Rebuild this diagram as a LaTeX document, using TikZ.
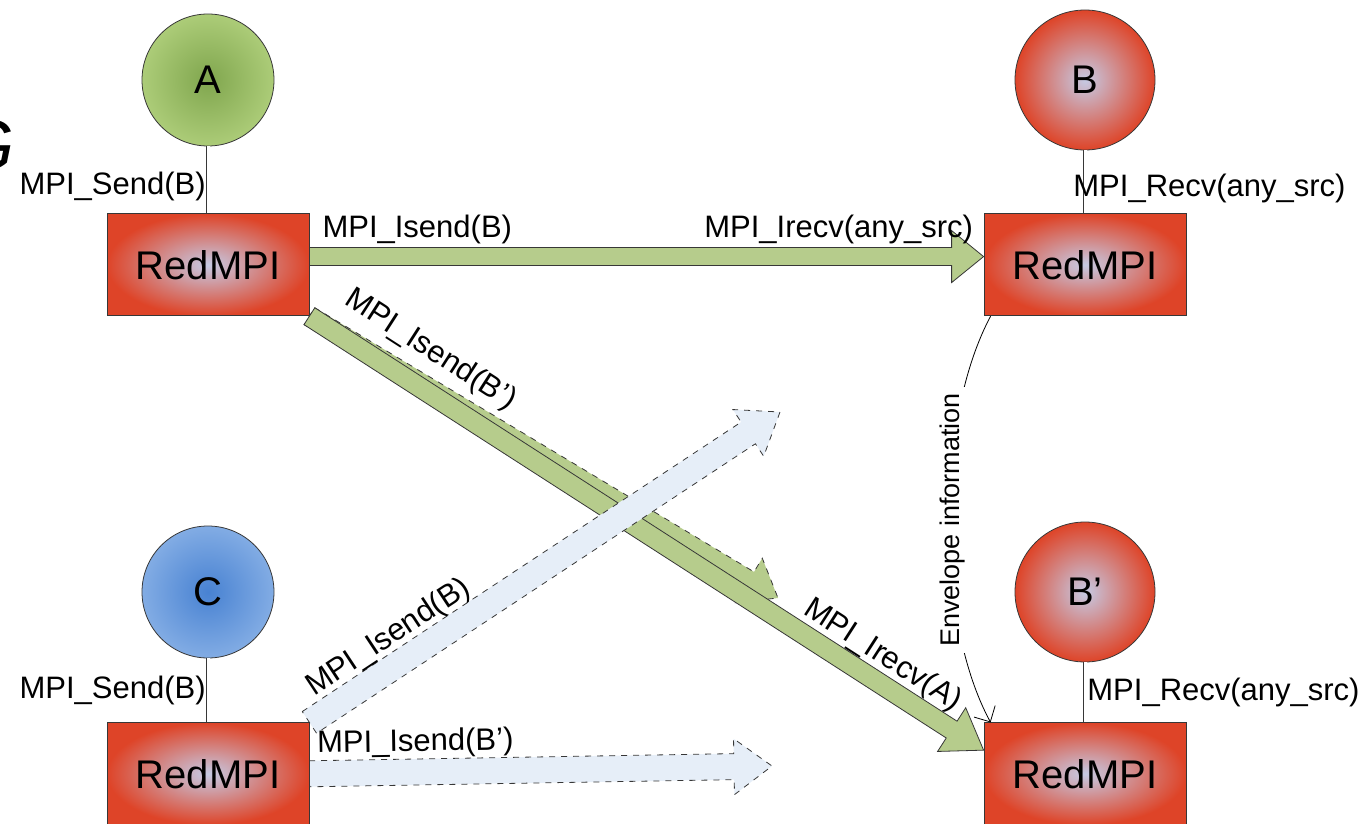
\documentclass[tikz,border=0pt]{standalone}
\usepackage{fontspec}
\setmainfont{Liberation Sans}
\usetikzlibrary{calc,positioning,backgrounds,arrows.meta}

\definecolor{mpired}{RGB}{222,68,40}
\definecolor{mpiblue}{RGB}{198,202,228}
\definecolor{agreen}{RGB}{182,204,140}
\definecolor{ghostblue}{RGB}{230,238,248}
\definecolor{edgegray}{RGB}{55,55,55}
\definecolor{greenin}{RGB}{128,166,78}
\definecolor{greenout}{RGB}{172,204,120}
\definecolor{bluein}{RGB}{72,130,210}
\definecolor{blueout}{RGB}{130,172,228}

\tikzset{%
  rank/.style={circle,draw=edgegray,thin,inner sep=0pt,minimum size=66pt,
    font=\fontsize{20}{24}\selectfont},
  redrank/.style={rank,minimum size=70pt,inner color=mpiblue,outer color=mpired},
  proc/.style={rectangle,draw=edgegray,thin,minimum width=101pt,minimum height=51pt,
    inner color=mpiblue,outer color=mpired,font=\fontsize{20}{24}\selectfont},
  call/.style={inner sep=1pt,font=\fontsize{15.5}{18}\selectfont},
  link/.style={draw=edgegray,thin,double=white,double distance=1.5pt},
  fat/.style={draw=edgegray,thin,fill=agreen,line join=miter},
  ghost/.style={draw=edgegray,thin,dashed,fill=ghostblue,line join=miter}
}

% block arrow from #2 to #3: half shaft, half head, head length
\newcommand{\fatarrow}[6][fat]{%
  \coordinate (fa-base) at ($(#3)!#6!(#2)$);
  \draw[#1] ($(#2)!#4!90:(#3)$) -- ($(fa-base)!#4!-90:(#2)$)
    -- ($(fa-base)!#5!-90:(#2)$) -- (#3) -- ($(fa-base)!#5!90:(#2)$)
    -- ($(fa-base)!#4!90:(#2)$) -- ($(#2)!#4!-90:(#3)$) -- cycle;
}

\begin{document}
\begin{tikzpicture}[x=0.5pt,y=-0.5pt]
\useasboundingbox (0,0) rectangle (1367,824);

% ranks and their RedMPI layers
\node[rank,inner color=greenin,outer color=greenout] (A) at (208,80) {A};
\node[redrank] (B) at (1085,80) {B};
\node[rank,inner color=bluein,outer color=blueout] (C) at (208,592) {C};
\node[redrank] (Bp) at (1085,592) {B'};

\node[proc,below=33.5pt of A] (rA) {RedMPI};
\node[proc,below=31.5pt of B] (rB) {RedMPI};
\node[proc,below=32pt of C] (rC) {RedMPI};
\node[proc,below=30pt of Bp] (rBp) {RedMPI};

\draw[link] (A) -- (rA);
\draw[link] (B) -- (rB);
\draw[link] (C) -- (rC);
\draw[link] (Bp) -- (rBp);

\node[call,anchor=east] (sendA) at ($(A.south)!0.6!(rA.north)$) {MPI\_Send(B)};
\node[call,anchor=west,xshift=-7pt] (recvB) at ($(B.south)!0.6!(rB.north)$) {MPI\_Recv(any\_src)};
\node[call,anchor=east] (sendC) at ($(C.south)!0.5!(rC.north)$) {MPI\_Send(B)};
\node[call,anchor=west] (recvBp) at ($(Bp.south)!0.5!(rBp.north)$) {MPI\_Recv(any\_src)};

% message arrows
\coordinate (hA) at ($(rA.north east)!0.42!(rA.south east)$);
\coordinate (hB) at ($(rB.north west)!0.42!(rB.south west)$);
\coordinate (tipBp) at ($(rBp.north west)!0.27!(rBp.south west)$);
\coordinate (ghostA) at (778,598);
\coordinate (ghostB) at (780,412);
\coordinate (ghostBp) at (772,766);

\begin{scope}[on background layer]
  \fatarrow[fat,dashed]{rA.south east}{ghostA}{5pt}{13pt}{17pt}
  \fatarrow{hA}{hB}{4.5pt}{13pt}{16pt}
  \fatarrow{rA.south east}{tipBp}{5pt}{13pt}{19pt}
  \fatarrow[ghost]{rC.north east}{ghostB}{6.5pt}{14pt}{19pt}
  \fatarrow[ghost]{rC.east}{ghostBp}{6.5pt}{14pt}{19pt}
\end{scope}

\path (hA) -- (hB)
  node[call,pos=0.16,above=5pt] (isAB) {MPI\_Isend(B)}
  node[call,pos=0.785,above=5pt] (irB) {MPI\_Irecv(any\_src)};
\path (rA.south east) -- (tipBp)
  node[call,pos=0.15,sloped,above=10pt] (isABp) {MPI\_Isend(B')}
  node[call,pos=0.83,sloped,above=4pt] (irBp) {MPI\_Irecv(A)};
\path (rC.north east) -- (ghostB)
  node[call,pos=0.2,sloped,above=5pt] (isCB) {MPI\_Isend(B)};
\path (rC.east) -- (ghostBp)
  node[call,pos=0.23,sloped,above=6pt] (isCBp) {MPI\_Isend(B')};

% envelope
\draw[thin,-{Straight Barb[length=6pt]}] ($(rB.south west)+(7,0)$)
  .. controls (935,420) and (935,620) .. ($(rBp.north west)+(7,0)$)
  node[midway,rotate=90,fill=white,inner sep=3pt,yshift=-2pt,font=\fontsize{13.5}{16}\selectfont] (env) {Envelope information};

\node[anchor=east,font=\fontsize{36}{36}\selectfont\itshape] (mark) at (22,146) {G};
\end{tikzpicture}
\end{document}
